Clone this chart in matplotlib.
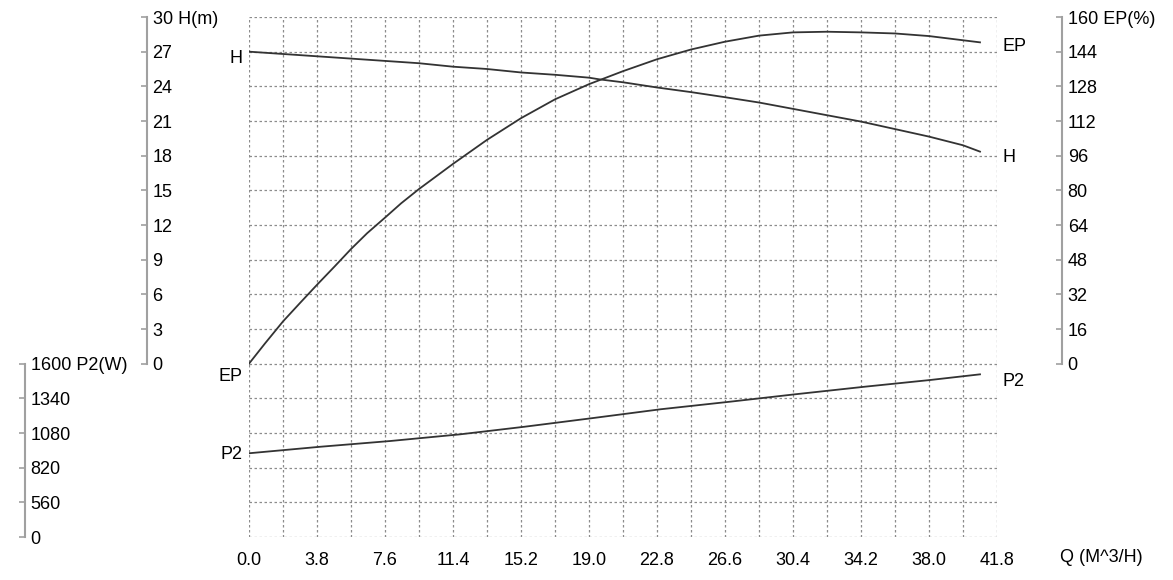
import matplotlib.pyplot as plt

plt.rcParams['font.family'] = ['Liberation Sans', 'DejaVu Sans']
plt.rcParams['font.size'] = 13

# curve readings
q_h = [0, 1.9, 3.8, 5.7, 7.6, 9.5, 11.4, 13.3, 15.2, 17.1, 19.0, 19.6, 20.9, 22.8, 24.7, 26.6,
       28.5, 30.4, 32.3, 34.2, 36.1, 38.0, 39.9, 40.85]
h = [27.0, 26.8, 26.6, 26.4, 26.2, 26.0, 25.7, 25.5, 25.2, 25.0, 24.75, 24.6, 24.35, 23.9, 23.5,
     23.06, 22.6, 22.05, 21.5, 20.95, 20.3, 19.65, 18.9, 18.35]

q_ep = [0, 0.9, 1.9, 2.85, 3.8, 4.8, 5.7, 6.6, 7.6, 8.5, 9.5, 11.4, 13.3, 15.2, 17.1, 19.0, 20.9,
        22.8, 24.7, 26.6, 28.5, 30.4, 32.3, 34.2, 36.1, 38.0, 40.85]
ep = [0, 9.4, 19.5, 28.0, 36.4, 45.0, 52.9, 60.2, 67.4, 74.0, 80.6, 92.2, 103.3, 113.3, 122.0,
      129.0, 135.0, 140.5, 145.0, 148.6, 151.4, 152.9, 153.2, 152.9, 152.4, 151.2, 148.3]

q_p2 = [0, 4.0, 7.9, 11.8, 15.4, 19.1, 23.0, 26.9, 30.5, 34.4, 38.1, 40.85]
p2 = [928, 977, 1020, 1070, 1127, 1190, 1258, 1315, 1370, 1427, 1478, 1520]

q_ticks = [0.0, 3.8, 7.6, 11.4, 15.2, 19.0, 22.8, 26.6, 30.4, 34.2, 38.0, 41.8]
h_ticks = [0, 3, 6, 9, 12, 15, 18, 21, 24, 27, 30]
ep_ticks = [0, 16, 32, 48, 64, 80, 96, 112, 128, 144, 160]
p2_ticks = [300, 560, 820, 1080, 1340, 1600]
p2_labels = ['0', '560', '820', '1080', '1340', '1600 P2(W)']

line_c = '#333333'
spine_c = '#a0a0a0'
grid_c = '#8c8c8c'

fig = plt.figure(figsize=(11.73, 5.8), dpi=100)
ax = fig.add_axes([249/1173, 1 - 537/580, 748/1173, 520/580])
ax_ep = ax.twinx()
ax_p2 = ax.twinx()

ax.set_xlim(0, 41.8)
ax.set_ylim(-15, 30)
ax_ep.set_ylim(-80, 160)
ax_p2.set_ylim(300, 4200)

# grid
ax.set_xticks(q_ticks)
ax.set_xticks([i * 1.9 for i in range(23)], minor=True)
ax.set_xticklabels(['%.1f' % t for t in q_ticks])
ax.set_yticks([-15 + 3 * i for i in range(16)], minor=True)
ax.grid(True, which='both', color=grid_c, linestyle=(0, (2, 2)), linewidth=0.9)
ax.tick_params(axis='x', which='both', length=0, pad=11, labelsize=13)


def side_axis(a, pos, lo, hi, ticks, labels):
    for s in ['top', 'bottom', 'left']:
        a.spines[s].set_visible(False)
    a.yaxis.tick_right()
    a.spines['right'].set_position(('axes', pos))
    a.spines['right'].set_bounds(lo, hi)
    a.spines['right'].set_color(spine_c)
    a.spines['right'].set_linewidth(1.5)
    a.set_yticks(ticks)
    a.set_yticklabels(labels)
    a.tick_params(axis='y', which='major', direction='in', length=4, width=1.2,
                  color=spine_c, pad=4, labelsize=13)
    a.tick_params(axis='y', which='minor', length=0)


side_axis(ax, -0.1364, 0, 30, h_ticks, [str(t) for t in h_ticks[:-1]] + ['30 H(m)'])
side_axis(ax_ep, 1.087, 0, 160, ep_ticks, [str(t) for t in ep_ticks[:-1]] + ['160 EP(%)'])
side_axis(ax_p2, -0.2995, 300, 1600, p2_ticks, p2_labels)

ax.plot(q_h, h, color=line_c, lw=1.3, solid_joinstyle='round')
ax_ep.plot(q_ep, ep, color=line_c, lw=1.3, solid_joinstyle='round')
ax_p2.plot(q_p2, p2, color=line_c, lw=1.3, solid_joinstyle='round')

# curve names
ax.annotate('H', (q_h[0], h[0]), xytext=(-5, -5), textcoords='offset points',
            ha='right', va='center', fontsize=13)
ax.annotate('H', (q_h[-1], h[-1]), xytext=(16, -4), textcoords='offset points',
            ha='left', va='center', fontsize=13)
ax_ep.annotate('EP', (q_ep[0], ep[0]), xytext=(-5, -9), textcoords='offset points',
               ha='right', va='center', fontsize=13)
ax_ep.annotate('EP', (q_ep[-1], ep[-1]), xytext=(16, -3), textcoords='offset points',
               ha='left', va='center', fontsize=13)
ax_p2.annotate('P2', (q_p2[0], p2[0]), xytext=(-5, -1), textcoords='offset points',
               ha='right', va='center', fontsize=13)
ax_p2.annotate('P2', (q_p2[-1], p2[-1]), xytext=(16, -5), textcoords='offset points',
               ha='left', va='center', fontsize=13)

ax.text(1.084, -20 / 520, 'Q (M^3/H)', transform=ax.transAxes, ha='left', va='center', fontsize=13)

fig.savefig('out.png', dpi=100)
